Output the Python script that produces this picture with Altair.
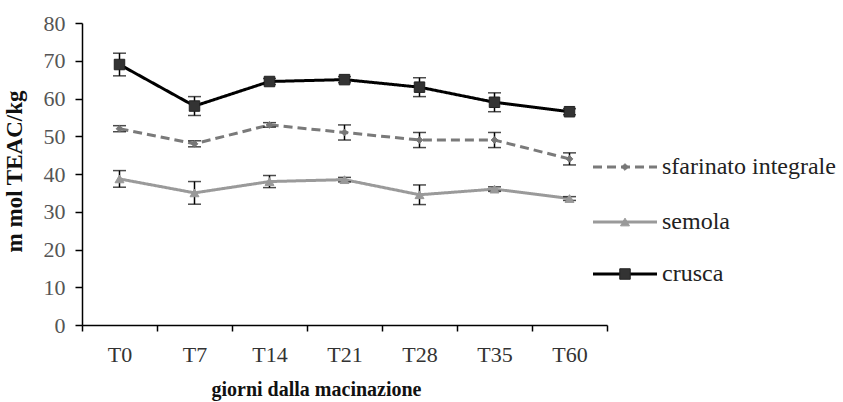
import altair as alt
import pandas as pd

# Sampling days after milling
days = ["T0", "T7", "T14", "T21", "T28", "T35", "T60"]

# Antioxidant capacity (mmol TEAC/kg) and standard deviations
sfarinato_mean = [52.0, 48.0, 53.0, 51.0, 49.0, 49.0, 44.0]
sfarinato_sd = [0.8, 0.8, 0.6, 2.0, 2.0, 2.0, 1.6]
semola_mean = [38.7, 35.0, 38.0, 38.5, 34.5, 36.0, 33.5]
semola_sd = [2.2, 3.0, 1.6, 0.6, 2.6, 0.6, 0.5]
crusca_mean = [69.0, 58.0, 64.5, 65.0, 63.0, 59.0, 56.5]
crusca_sd = [3.0, 2.5, 0.8, 0.8, 2.5, 2.5, 0.8]

series_names = ["sfarinato integrale", "semola", "crusca"]

FONT = "Liberation Serif, Times New Roman, serif"
W, H = 525, 302
Y_DOMAIN = [0, 80]
Y_TICKS = list(range(0, 81, 10))


def frame(name, means, sds):
    return pd.DataFrame({
        "giorno": days,
        "serie": name,
        "valore": means,
        "lo": [m - s for m, s in zip(means, sds)],
        "hi": [m + s for m, s in zip(means, sds)],
    })


frames = [
    frame(series_names[0], sfarinato_mean, sfarinato_sd),
    frame(series_names[1], semola_mean, semola_sd),
    frame(series_names[2], crusca_mean, crusca_sd),
]

x_enc = alt.X(
    "giorno:N",
    sort=days,
    scale=alt.Scale(type="band", paddingInner=0, paddingOuter=0),
    axis=alt.Axis(
        title="giorni dalla macinazione",
        titleFont=FONT, titleFontSize=20, titleFontWeight="bold", titleColor="#111",
        titleX=234, titleY=70, titleBaseline="alphabetic", titleAlign="center",
        labelFont=FONT, labelFontSize=22, labelColor="#333", labelPadding=13,
        labelAngle=0, tickBand="extent", tickSize=6, tickColor="#000", tickWidth=1.5,
        domainColor="#000", domainWidth=1.5, grid=False, labelOverlap=False,
    ),
)
y_enc = alt.Y(
    "valore:Q",
    scale=alt.Scale(domain=Y_DOMAIN, nice=False),
    axis=alt.Axis(
        title="m mol TEAC/kg",
        titleFont=FONT, titleFontSize=23, titleFontWeight="bold", titleColor="#111",
        titleX=-56, titleY=148, titleAlign="center", titleAngle=270,
        labelFont=FONT, labelFontSize=22, labelColor="#555", labelPadding=10,
        values=Y_TICKS, tickSize=7, tickColor="#000", tickWidth=1.5,
        domainColor="#000", domainWidth=1.5, grid=False, labelOverlap=False,
    ),
)

styles = {
    series_names[0]: dict(color="#7a7a7a", dash=[9, 5], shape="diamond", size=45),
    series_names[1]: dict(color="#9a9a9a", dash=[1, 0], shape="triangle-up", size=80),
    series_names[2]: dict(color="#000000", dash=[1, 0], shape="square", size=110),
}
marker_fill = {series_names[0]: "#777", series_names[1]: "#999", series_names[2]: "#333"}

layers = []
for df, name in zip(frames, series_names):
    st = styles[name]
    # error bars: vertical rule from mean-sd to mean+sd plus caps at both ends
    err_df = pd.DataFrame({"giorno": df["giorno"], "valore": df["lo"], "hi": df["hi"]})
    caps_df = pd.concat([
        pd.DataFrame({"giorno": df["giorno"], "valore": df["lo"]}),
        pd.DataFrame({"giorno": df["giorno"], "valore": df["hi"]}),
    ])
    line = alt.Chart(df).mark_line(color=st["color"], strokeWidth=3, strokeDash=st["dash"]).encode(x=x_enc, y=y_enc)
    err = alt.Chart(err_df).mark_rule(color="#000", strokeWidth=1.5).encode(x=x_enc, y=y_enc, y2="hi:Q")
    caps = alt.Chart(caps_df).mark_tick(color="#000", thickness=1.5, size=13, orient="horizontal").encode(x=x_enc, y=y_enc)
    pts = alt.Chart(df).mark_point(
        shape=st["shape"], size=st["size"], filled=True, fill=marker_fill[name],
        stroke="#222" if name == "crusca" else marker_fill[name], strokeWidth=1, opacity=1,
    ).encode(x=x_enc, y=y_enc)
    layers += [line, err, caps, pts]

# Legend drawn beside the plot area
legend_rows = [144, 199, 251]
for name, ly in zip(series_names, legend_rows):
    st = styles[name]
    ld = alt.Chart(pd.DataFrame({"serie": [name]}))
    layers.append(ld.mark_rule(color=st["color"], strokeWidth=3, strokeDash=st["dash"]).encode(
        x=alt.value(511), x2=alt.value(575), y=alt.value(ly)))
    layers.append(ld.mark_point(
        shape=st["shape"], size=st["size"], filled=True, fill=marker_fill[name],
        stroke="#222" if name == "crusca" else marker_fill[name], strokeWidth=1, opacity=1,
    ).encode(x=alt.value(543), y=alt.value(ly)))
    layers.append(ld.mark_text(align="left", baseline="middle", font=FONT, fontSize=24, color="#222").encode(
        x=alt.value(580), y=alt.value(ly), text="serie:N"))

chart = alt.layer(*layers).properties(
    width=W, height=H,
    autosize=alt.AutoSizeParams(type="none"),
    padding={"left": 82, "top": 23, "right": 236, "bottom": 77},
    background="white",
).configure_view(stroke=None, clip=False)

chart.save("out.html", embed_options={"renderer": "svg", "actions": False})
